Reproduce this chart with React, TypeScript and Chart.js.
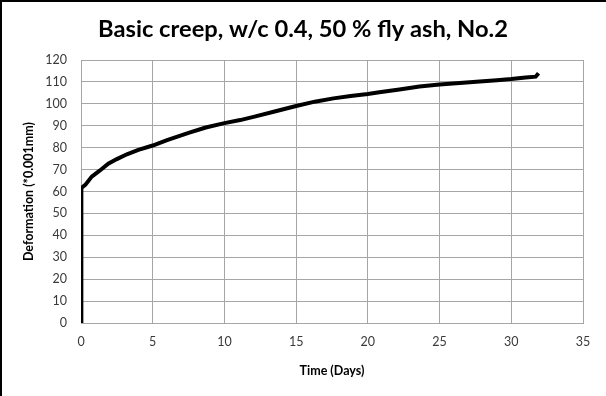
import React, { useEffect, useRef } from "react";
import { Chart, registerables } from "chart.js";

Chart.register(...registerables);

const titleText = "Basic creep, w/c 0.4, 50 % fly ash, No.2";
const xAxisTitle = "Time (Days)";
const yAxisTitle = "Deformation (*0.001mm)";

const timeDays = [
  0, 0, 0.05, 0.3, 0.75, 1.3, 1.9, 2.5, 3.2, 4, 5, 6, 7.5, 8.7, 10, 11.1, 12.1,
  13.5, 15, 16.3, 17.6, 18.8, 20, 20.8, 22.2, 23.6, 25, 26.4, 27.8, 29, 30, 31,
  31.7, 31.9,
];
const deformation = [
  0, 60, 61.6, 63, 66.8, 69.5, 72.7, 74.8, 77, 79, 81, 83.5, 86.8, 89.2, 91.2,
  92.6, 94.2, 96.5, 99, 101, 102.5, 103.6, 104.5, 105.3, 106.6, 107.9, 108.8,
  109.5, 110.2, 110.8, 111.3, 112, 112.4, 114,
];

export default function App() {
  const ref = useRef<HTMLCanvasElement>(null);
  useEffect(() => {
    if (!ref.current) return;
    const points = timeDays.map((t, i) => ({ x: t, y: deformation[i] }));
    const font = "Lato, 'Open Sans', sans-serif";
    const chart = new Chart(ref.current, {
      type: "scatter",
      data: {
        datasets: [
          {
            data: points,
            showLine: true,
            borderColor: "#000000",
            borderWidth: 4,
            pointRadius: 0,
            tension: 0,
          },
        ],
      },
      options: {
        animation: false,
        responsive: false,
        maintainAspectRatio: false,
        layout: { padding: { left: 23, right: 23, top: 0, bottom: 0 } },
        plugins: {
          legend: { display: false },
          tooltip: { enabled: false },
          title: {
            display: true,
            text: titleText,
            color: "#000000",
            font: { family: font, size: 23.7, weight: "bold" },
            padding: { top: 15, bottom: 16.6 },
          },
        },
        scales: {
          x: {
            type: "linear",
            min: 0,
            max: 35,
            ticks: {
              stepSize: 5,
              color: "#3a3a3a",
              font: { family: font, size: 12.5 },
              padding: 11,
              maxRotation: 0,
            },
            grid: { color: "#a6a6a6", lineWidth: 1, drawTicks: false },
            border: { color: "#a6a6a6", width: 1 },
            title: {
              display: true,
              text: xAxisTitle,
              color: "#000000",
              font: { family: font, size: 12.5, weight: "bold" },
              padding: { top: 0, bottom: 17.5 },
            },
            afterFit: (s: any) => {
              s.height = 73;
            },
          },
          y: {
            type: "linear",
            min: 0,
            max: 120,
            ticks: {
              stepSize: 10,
              color: "#3a3a3a",
              font: { family: font, size: 12.5 },
              padding: 14,
            },
            grid: { color: "#a6a6a6", lineWidth: 1, drawTicks: false },
            border: { color: "#a6a6a6", width: 1 },
            title: {
              display: true,
              text: yAxisTitle,
              color: "#000000",
              font: { family: font, size: 12.5, weight: "bold" },
              padding: { top: -2, bottom: 0 },
            },
            afterFit: (s: any) => {
              s.width = 58;
            },
          },
        },
      },
    });
    return () => chart.destroy();
  }, []);
  return (
    <div
      style={{
        position: "fixed",
        left: 0,
        top: 0,
        width: 606,
        height: 396,
        background: "#ffffff",
      }}
    >
      <canvas ref={ref} width={606} height={396} style={{ display: "block" }} />
      <div
        style={{
          position: "absolute",
          left: 0,
          top: 0,
          width: 606,
          height: 396,
          boxSizing: "border-box",
          borderLeft: "2px solid #000",
          borderTop: "2px solid #000",
          pointerEvents: "none",
        }}
      />
    </div>
  );
}
